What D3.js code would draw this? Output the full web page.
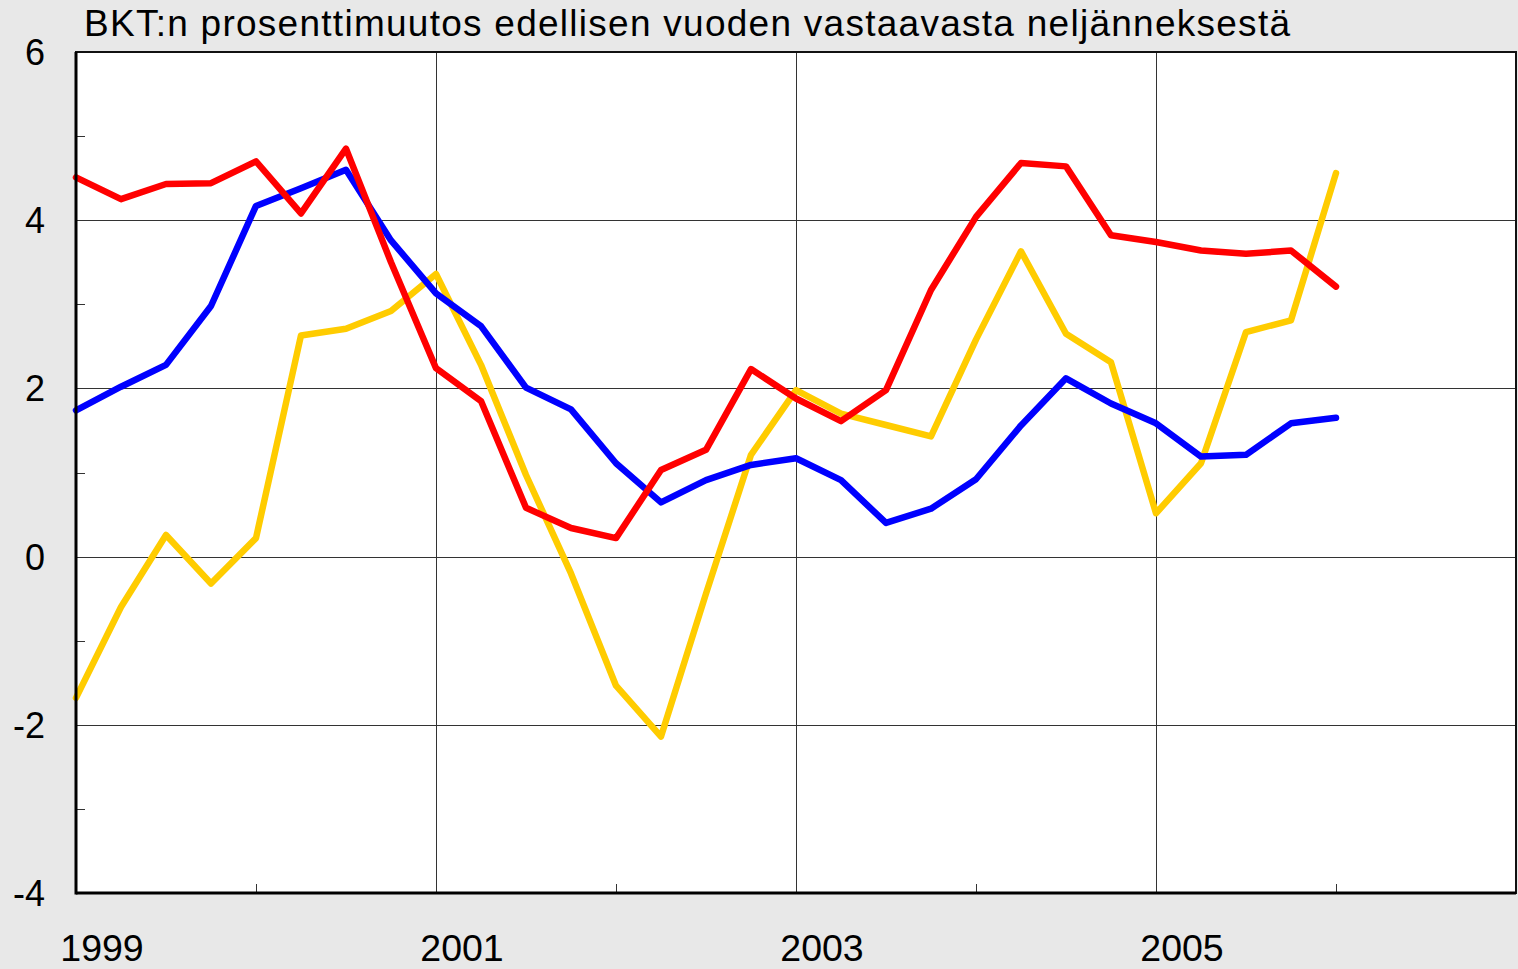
<!DOCTYPE html>
<html>
<head>
<meta charset="utf-8">
<script src="https://cdn.jsdelivr.net/npm/d3@7"></script>
<style>
  html,body{margin:0;padding:0;background:#e8e8e8;}
  svg{display:block;font-family:"Liberation Sans",Arial,sans-serif;}
</style>
</head>
<body>
<div id="chart"></div>
<script>
// quarterly values 1999Q1 .. 2006Q1
const startYear=1999;
const redSeries=[4.51,4.25,4.43,4.44,4.70,4.08,4.85,3.50,2.24,1.85,0.58,0.34,0.22,1.03,1.27,2.23,1.88,1.61,1.98,3.17,4.04,4.68,4.64,3.82,3.74,3.64,3.60,3.64,3.21];
const blueSeries=[1.74,2.02,2.28,2.98,4.17,4.38,4.60,3.76,3.13,2.74,2.01,1.75,1.11,0.645,0.91,1.09,1.17,0.91,0.40,0.57,0.92,1.56,2.12,1.82,1.585,1.19,1.21,1.585,1.65];
const yellowSeries=[-1.68,-0.60,0.257,-0.32,0.22,2.63,2.71,2.92,3.36,2.28,0.97,-0.20,-1.535,-2.14,-0.44,1.21,1.98,1.70,1.565,1.43,2.58,3.63,2.65,2.31,0.515,1.11,2.67,2.81,4.56];
const yTicks=[-4,-2,0,2,4,6];
const yMinorTicks=[-3,-1,1,3,5];
const yearLabels=[1999,2001,2003,2005];
const yearMinorTicks=[2000,2002,2004,2006];
const title="BKT:n prosenttimuutos edellisen vuoden vastaavasta neljänneksestä";

(function(){
  const W=1518,H=969;
  const m={top:52,right:2,bottom:76,left:76};
  const svg=d3.select("#chart").append("svg").attr("width",W).attr("height",H);
  svg.append("rect").attr("width",W).attr("height",H).attr("fill","#e8e8e8");
  const x=d3.scaleLinear().domain([1999,2007]).range([m.left,W-m.right]);
  const y=d3.scaleLinear().domain([-4,6]).range([H-m.bottom,m.top]);

  svg.append("rect").attr("x",x(1999)).attr("y",y(6)).attr("width",x(2007)-x(1999)).attr("height",y(-4)-y(6)).attr("fill","#fff");

  // gridlines
  svg.append("g").selectAll("line").data(yTicks.filter(d=>d>-4&&d<6)).join("line")
    .attr("x1",x(1999)).attr("x2",x(2007)).attr("y1",d=>Math.round(y(d))+.5).attr("y2",d=>Math.round(y(d))+.5)
    .attr("stroke","#333").attr("stroke-width",1);
  svg.append("g").selectAll("line").data(yearLabels.filter(d=>d>1999)).join("line")
    .attr("x1",d=>Math.round(x(d))+.5).attr("x2",d=>Math.round(x(d))+.5).attr("y1",y(6)).attr("y2",y(-4))
    .attr("stroke","#333").attr("stroke-width",1);

  // minor ticks (inward)
  svg.append("g").selectAll("line").data(yMinorTicks).join("line")
    .attr("x1",x(1999)).attr("x2",x(1999)+9).attr("y1",d=>Math.round(y(d))+.5).attr("y2",d=>Math.round(y(d))+.5)
    .attr("stroke","#333");
  svg.append("g").selectAll("line").data(yearMinorTicks).join("line")
    .attr("x1",d=>Math.round(x(d))+.5).attr("x2",d=>Math.round(x(d))+.5).attr("y1",y(-4)).attr("y2",y(-4)-9)
    .attr("stroke","#333");

  // series
  const line=d3.line().x((d,i)=>x(startYear+i/4)).y(d=>y(d));
  const series=[{v:yellowSeries,c:"#ffcc00"},{v:blueSeries,c:"#0000ff"},{v:redSeries,c:"#ff0000"}];
  const pg=svg.append("g");
  series.forEach(s=>{
    pg.append("path").datum(s.v).attr("d",line).attr("fill","none")
      .attr("stroke",s.c).attr("stroke-width",6.5).attr("stroke-linejoin","round").attr("stroke-linecap","round");
  });

  // frame
  svg.append("rect").attr("x",x(1999)).attr("y",y(6)).attr("width",x(2007)-x(1999)).attr("height",y(-4)-y(6))
    .attr("fill","none").attr("stroke","#111").attr("stroke-width",2);
  svg.append("line").attr("x1",x(1999)).attr("x2",x(1999)).attr("y1",y(6)).attr("y2",y(-4)+1.5).attr("stroke","#000").attr("stroke-width",3);
  svg.append("line").attr("x1",x(1999)).attr("x2",x(2007)).attr("y1",y(-4)).attr("y2",y(-4)).attr("stroke","#000").attr("stroke-width",3);

  // labels
  svg.append("g").selectAll("text").data(yTicks).join("text")
    .attr("x",45).attr("y",d=>y(d)).attr("dy","0.36em").attr("text-anchor","end")
    .attr("font-size",36).attr("fill","#000").text(d=>d);
  svg.append("g").selectAll("text").data(yearLabels).join("text")
    .attr("x",d=>x(d)+26).attr("y",961).attr("text-anchor","middle")
    .attr("font-size",37.5).attr("fill","#000").text(d=>d);
  svg.append("text").attr("x",84).attr("y",36).attr("font-size",37)
    .attr("textLength",1206).attr("lengthAdjust","spacing").attr("fill","#000").text(title);
})();
</script>
</body>
</html>
